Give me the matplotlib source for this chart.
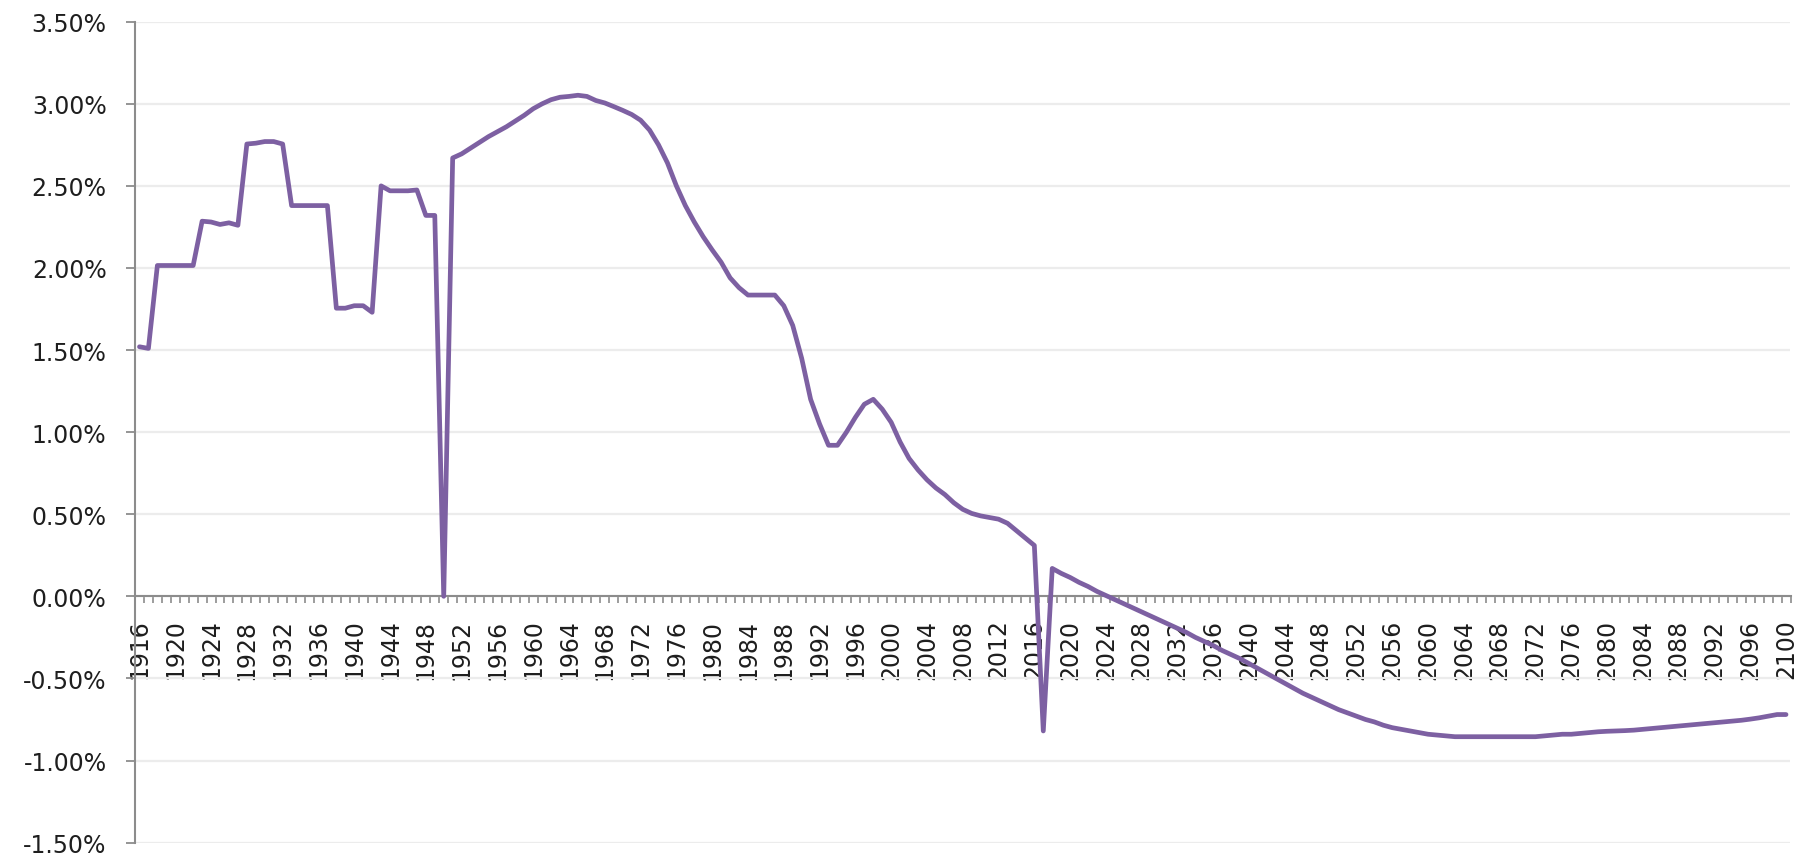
import numpy as np
import matplotlib
matplotlib.use("Agg")
import matplotlib.pyplot as plt
from matplotlib.ticker import FuncFormatter, FixedLocator

# ---- data ----
years = list(range(1916, 2101))
rate_pct = [
    # 1916-1925
    1.52, 1.51, 2.015, 2.015, 2.015, 2.015, 2.015, 2.285, 2.28, 2.265,
    # 1926-1935
    2.275, 2.26, 2.755, 2.76, 2.77, 2.77, 2.755, 2.38, 2.38, 2.38,
    # 1936-1945
    2.38, 2.38, 1.755, 1.755, 1.77, 1.77, 1.73, 2.50, 2.47, 2.47,
    # 1946-1955
    2.47, 2.475, 2.32, 2.32, 0.0, 2.67, 2.695, 2.73, 2.765, 2.80,
    # 1956-1965
    2.83, 2.86, 2.895, 2.93, 2.97, 3.00, 3.025, 3.04, 3.045, 3.052,
    # 1966-1975
    3.045, 3.02, 3.005, 2.983, 2.96, 2.935, 2.90, 2.84, 2.75, 2.64,
    # 1976-1985
    2.50, 2.38, 2.28, 2.19, 2.11, 2.035, 1.94, 1.88, 1.835, 1.835,
    # 1986-1995
    1.835, 1.835, 1.77, 1.65, 1.45, 1.20, 1.05, 0.92, 0.92, 1.00,
    # 1996-2005
    1.09, 1.17, 1.20, 1.14, 1.06, 0.94, 0.84, 0.77, 0.71, 0.66,
    # 2006-2015
    0.62, 0.57, 0.53, 0.505, 0.49, 0.48, 0.47, 0.445, 0.40, 0.355,
    # 2016-2025
    0.31, -0.82, 0.17, 0.14, 0.115, 0.085, 0.06, 0.03, 0.005, -0.02,
    # 2026-2035
    -0.045, -0.07, -0.095, -0.12, -0.145, -0.17, -0.195, -0.22, -0.25, -0.275,
    # 2036-2045
    -0.30, -0.33, -0.355, -0.38, -0.41, -0.44, -0.47, -0.50, -0.53, -0.56,
    # 2046-2055
    -0.59, -0.615, -0.64, -0.665, -0.69, -0.71, -0.73, -0.75, -0.765, -0.785,
    # 2056-2065
    -0.80, -0.81, -0.82, -0.83, -0.84, -0.845, -0.85, -0.855, -0.855, -0.855,
    # 2066-2075
    -0.855, -0.855, -0.855, -0.855, -0.855, -0.855, -0.855, -0.85, -0.845, -0.84,
    # 2076-2085
    -0.84, -0.835, -0.83, -0.825, -0.822, -0.82, -0.818, -0.815, -0.81, -0.805,
    # 2086-2095
    -0.80, -0.795, -0.79, -0.785, -0.78, -0.775, -0.77, -0.765, -0.76, -0.755,
    # 2096-2100
    -0.748, -0.74, -0.73, -0.72, -0.72,
]
label_years = list(range(1916, 2101, 4))
y_ticks = [-1.5, -1.0, -0.5, 0.0, 0.5, 1.0, 1.5, 2.0, 2.5, 3.0, 3.5]

# ---- style ----
LINE_COLOR = "#7d60a2"
AXIS_COLOR = "#8c8c8c"
GRID_COLOR = "#ececec"
TEXT_COLOR = "#1e1e1e"
plt.rcParams["font.family"] = ["DejaVu Sans"]

W, H, DPI = 1802, 854, 100
fig = plt.figure(figsize=(W / DPI, H / DPI), dpi=DPI, facecolor="white")
left_px, right_px = 135.0, 1790.5
top_px, bottom_px = 22.7, 843.6
ax = fig.add_axes([left_px / W, 1 - bottom_px / H,
                   (right_px - left_px) / W, (bottom_px - top_px) / H])

ax.plot(years, rate_pct, color=LINE_COLOR, lw=3.4, solid_joinstyle="round",
        solid_capstyle="round", zorder=3)

ax.set_xlim(years[0] - 0.5, years[-1] + 0.5)
ax.set_ylim(y_ticks[0], y_ticks[-1])

# y axis
ax.yaxis.set_major_locator(FixedLocator(y_ticks))
ax.yaxis.set_major_formatter(FuncFormatter(lambda v, p: f"{v:.2f}%"))
ax.tick_params(axis="y", which="major", direction="out", length=6.5, width=1.3,
               color=AXIS_COLOR, labelsize=17, labelcolor=TEXT_COLOR, pad=14)
ax.grid(axis="y", color=GRID_COLOR, lw=1.6, zorder=0)
ax.set_axisbelow(True)

# x axis at zero
ax.spines["bottom"].set_position(("data", 0))
ax.xaxis.set_major_locator(FixedLocator(label_years))
ax.xaxis.set_major_formatter(FuncFormatter(lambda v, p: f"{int(round(v))}"))
ax.xaxis.set_minor_locator(FixedLocator(np.arange(years[0] - 0.5, years[-1] + 1.0, 1.0)))
ax.tick_params(axis="x", which="major", length=0, labelsize=17,
               labelcolor=TEXT_COLOR, pad=16, labelrotation=90)
ax.tick_params(axis="x", which="minor", direction="out", length=5, width=1.2,
               color=AXIS_COLOR)
for lab in ax.get_xticklabels():
    lab.set_verticalalignment("top")
    lab.set_horizontalalignment("center")

for s in ["top", "right"]:
    ax.spines[s].set_visible(False)
for s in ["left", "bottom"]:
    ax.spines[s].set_color(AXIS_COLOR)
    ax.spines[s].set_linewidth(1.5)

fig.savefig("out.png", dpi=DPI, facecolor="white")
